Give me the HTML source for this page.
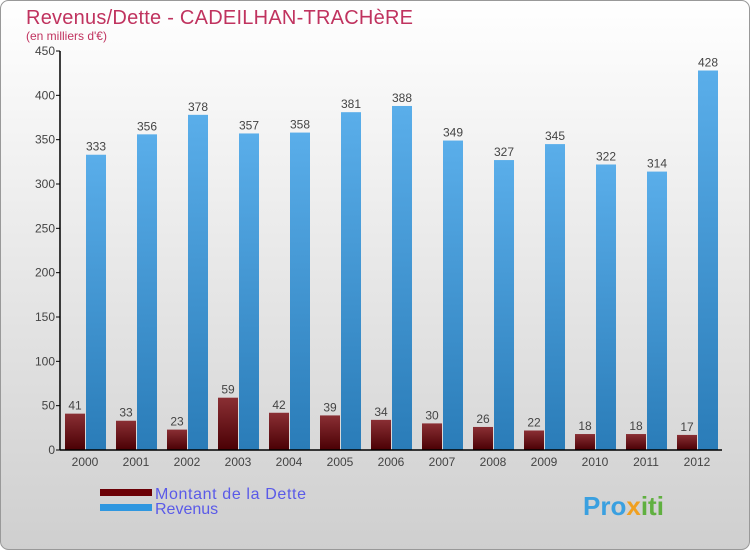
<!DOCTYPE html>
<html><head><meta charset="utf-8"><style>
body{margin:0;width:750px;height:550px;overflow:hidden;font-family:"Liberation Sans",sans-serif}
</style></head><body>
<svg id="chart" width="750" height="550" xmlns="http://www.w3.org/2000/svg">
<defs>
<linearGradient id="bg" x1="0" y1="0" x2="0" y2="1"><stop offset="0" stop-color="#ffffff"/><stop offset="1" stop-color="#cfcfcf"/></linearGradient>
<linearGradient id="gd" x1="0" y1="0" x2="0" y2="1"><stop offset="0" stop-color="#8a2f34"/><stop offset="1" stop-color="#4a0004"/></linearGradient>
<linearGradient id="gr" x1="0" y1="0" x2="0" y2="1"><stop offset="0" stop-color="#5aaeea"/><stop offset="1" stop-color="#2a7cb8"/></linearGradient>
</defs>
<rect x="0.5" y="0.5" width="749" height="549" rx="8" fill="url(#bg)" stroke="#999"/>
<text x="26" y="24" font-size="20" fill="#c0335f" textLength="387">Revenus/Dette - CADEILHAN-TRACHèRE</text>
<text x="26" y="40" font-size="12" fill="#c0335f">(en milliers d'€)</text>
<g id="plot"></g>
<rect x="100" y="489" width="52" height="7" fill="#6b0006"/>
<text x="155" y="499" font-size="16" fill="#5a5ae8" textLength="151">Montant de la Dette</text>
<rect x="100" y="504" width="52" height="7" fill="#2f97e0"/>
<text x="155" y="514" font-size="16" fill="#5a5ae8">Revenus</text>
<text x="583" y="515" font-size="26" font-weight="bold" fill="#3aa0e0">Pro<tspan fill="#f0a020">x</tspan><tspan fill="#60b040">iti</tspan></text>
</svg>
<script>
const years=["2000","2001","2002","2003","2004","2005","2006","2007","2008","2009","2010","2011","2012"];
const dette=[41,33,23,59,42,39,34,30,26,22,18,18,17];
const revenus=[333,356,378,357,358,381,388,349,327,345,322,314,428];
const yTicks=[0,50,100,150,200,250,300,350,400,450];
const NS="http://www.w3.org/2000/svg";
const g=document.getElementById('plot');
const y0=450,yTop=51,vmax=450;
const yS=v=>y0-(v/vmax)*(y0-yTop);
const xS=i=>85+i*51;
function mk(t,a,txt){const e=document.createElementNS(NS,t);for(const k in a)e.setAttribute(k,a[k]);if(txt!==undefined)e.textContent=txt;g.appendChild(e);return e;}
yTicks.forEach(v=>{
 const l=mk('line',{x1:56,x2:60,y1:yS(v),y2:yS(v),stroke:'#000'});
 
 
 const t=mk('text',{x:55,y:yS(v)+4,'text-anchor':'end','font-size':12,fill:'#444'},v);
 
 
});
years.forEach((yr,i)=>{
 const cx=xS(i);
 const b1=mk('rect',{x:cx-20,y:yS(dette[i]),width:20,height:y0-yS(dette[i]),fill:'url(#gd)'});
 
 
 const b2=mk('rect',{x:cx+1,y:yS(revenus[i]),width:20,height:y0-yS(revenus[i]),fill:'url(#gr)'});
 
 
 const t1=mk('text',{x:cx-10,y:yS(dette[i])-4,'text-anchor':'middle','font-size':12,fill:'#444'},dette[i]);
 
 
 const t2=mk('text',{x:cx+11,y:yS(revenus[i])-4,'text-anchor':'middle','font-size':12,fill:'#444'},revenus[i]);
 
 
 const xl=mk('text',{x:cx,y:466,'text-anchor':'middle','font-size':12,fill:'#444'},yr);
 
 
});
const ya=mk('line',{x1:60,x2:60,y1:yTop,y2:y0,stroke:'#000','stroke-width':1.5});


const xa=mk('line',{x1:60,x2:722,y1:y0,y2:y0,stroke:'#000','stroke-width':1.5});


</script>
</body></html>
